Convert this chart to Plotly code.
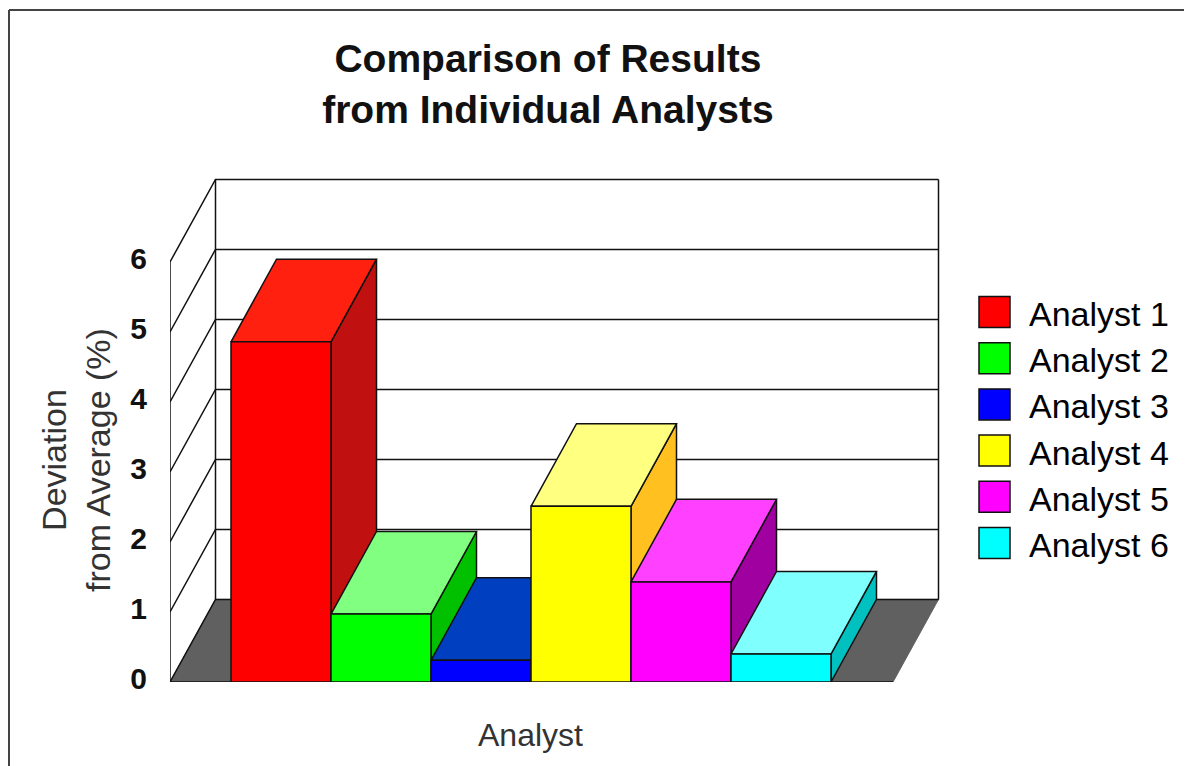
import plotly.graph_objects as go

analysts = ['Analyst 1', 'Analyst 2', 'Analyst 3', 'Analyst 4', 'Analyst 5', 'Analyst 6']
deviation = [4.86, 0.97, 0.31, 2.51, 1.43, 0.40]
y_ticks = [0, 1, 2, 3, 4, 5, 6]

front_colours = ['#ff0000', '#00ff00', '#0000ff', '#ffff00', '#ff00ff', '#00ffff']
top_colours = ['#ff2010', '#80ff80', '#0040c0', '#ffff80', '#ff40ff', '#80ffff']
side_colours = ['#c01010', '#00c000', '#0000a0', '#ffc020', '#a000a0', '#00c0c0']
FLOOR = '#606060'
INK = '#111111'

# fake 3d: how far the back wall is shifted from the front, in axis units
DEPTH_X = 0.455
DEPTH_Y = 1.18
FLOOR_X = [-1.11, 6.12]
FONT = 'Liberation Sans'


def px_x(px):
    return (px - 170) / 778


def px_y(py):
    return (682 - py) / 511


def add_line(fig, xs, ys):
    fig.add_trace(go.Scatter(x=xs, y=ys, mode='lines', line=dict(color=INK, width=1.5),
                             cliponaxis=False, showlegend=False, hoverinfo='skip'))


def add_face(fig, xs, ys, colour, name):
    fig.add_trace(go.Scatter(x=xs, y=ys, mode='lines', fill='toself', fillcolor=colour,
                             line=dict(color=INK, width=1.5), cliponaxis=False,
                             name=name, showlegend=False))


def plot_walls(fig):
    x0, x1 = FLOOR_X
    # floor has no outline, only the front edge below
    fig.add_trace(go.Scatter(x=[x0, x1, x1 + DEPTH_X, x0 + DEPTH_X, x0],
                             y=[0, 0, DEPTH_Y, DEPTH_Y, 0],
                             mode='lines', fill='toself', fillcolor=FLOOR,
                             line=dict(color=FLOOR, width=1), cliponaxis=False,
                             showlegend=False, hoverinfo='skip'))
    for v in y_ticks:
        add_line(fig, [x0, x0 + DEPTH_X, x1 + DEPTH_X],
                 [v, v + DEPTH_Y, v + DEPTH_Y])
    top = y_ticks[-1]
    add_line(fig, [x0, x0], [0, top])
    add_line(fig, [x0 + DEPTH_X, x0 + DEPTH_X], [DEPTH_Y, top + DEPTH_Y])
    add_line(fig, [x1 + DEPTH_X, x1 + DEPTH_X], [DEPTH_Y, top + DEPTH_Y])
    add_line(fig, [x0, x1], [0, 0])


def plot_bars(fig):
    # left to right, each bar hides the side of the one before
    for i, v in enumerate(deviation):
        l, r = i - 0.5, i + 0.5
        add_face(fig, [r, r + DEPTH_X, r + DEPTH_X, r, r],
                 [0, DEPTH_Y, v + DEPTH_Y, v, 0], side_colours[i], analysts[i])
        add_face(fig, [l, r, r + DEPTH_X, l + DEPTH_X, l],
                 [v, v, v + DEPTH_Y, v + DEPTH_Y, v], top_colours[i], analysts[i])
        add_face(fig, [l, r, r, l, l], [0, 0, v, v, 0], front_colours[i], analysts[i])


def plot_legend(fig):
    for i, name in enumerate(analysts):
        cy = 312 + i * 46.2
        fig.add_shape(type='rect', xref='paper', yref='paper',
                      x0=px_x(979), x1=px_x(1010), y0=px_y(cy + 15.5), y1=px_y(cy - 15.5),
                      fillcolor=front_colours[i], line=dict(color=INK, width=1.5))
        fig.add_annotation(xref='paper', yref='paper', x=px_x(1027), y=px_y(cy + 2),
                           xanchor='left', yanchor='middle', showarrow=False, text=name,
                           font=dict(family=FONT, size=34, color='#000000'))


def plot_layout(fig):
    fig.add_annotation(xref='paper', yref='paper', x=px_x(530), y=px_y(735),
                       xanchor='center', yanchor='middle', showarrow=False, text='Analyst',
                       font=dict(family=FONT, size=32, color='#333333'))
    fig.add_annotation(xref='paper', yref='paper', x=px_x(76), y=px_y(460),
                       xanchor='center', yanchor='middle', showarrow=False, textangle=-90,
                       text='Deviation<br>from Average (%)',
                       font=dict(family=FONT, size=34, color='#333333'))
    # picture frame, only top and left edges are in the picture
    fig.add_shape(type='line', xref='paper', yref='paper',
                  x0=px_x(9), x1=px_x(1200), y0=px_y(10), y1=px_y(10),
                  line=dict(color='#444444', width=2))
    fig.add_shape(type='line', xref='paper', yref='paper',
                  x0=px_x(9), x1=px_x(9), y0=px_y(10), y1=px_y(780),
                  line=dict(color='#444444', width=2))
    fig.update_layout(
        width=1184,
        height=758,
        margin=dict(l=162, r=244, t=163, b=84),
        paper_bgcolor='white',
        plot_bgcolor='white',
        showlegend=False,
        title=dict(text='<b>Comparison of Results<br>from Individual Analysts</b>',
                   x=0.456, xanchor='center', y=0.915, yanchor='top',
                   font=dict(family=FONT, size=39, color='#111111')),
        xaxis=dict(range=[-1.11, 6.67], visible=False),
        yaxis=dict(range=[0, 7.3], tickvals=y_ticks, showgrid=False, zeroline=False,
                   showline=False, ticks='', ticklabelstandoff=22, ticklabelshift=-4,
                   tickfont=dict(family=FONT, size=30, color='#111111', weight='bold')),
    )


fig = go.Figure()
plot_walls(fig)
plot_bars(fig)
plot_legend(fig)
plot_layout(fig)
fig.write_html("out.html")
